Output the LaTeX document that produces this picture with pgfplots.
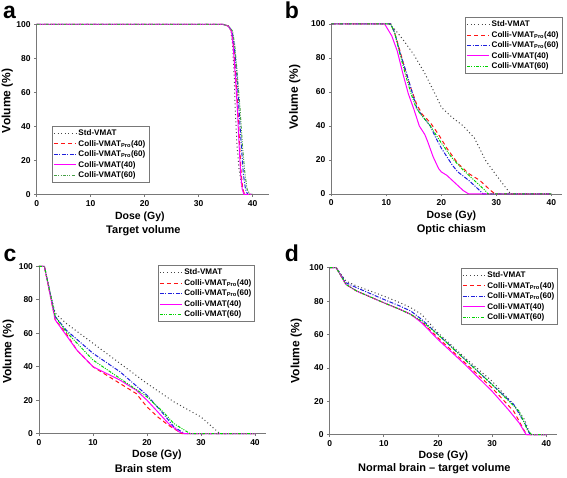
\documentclass[border=0pt]{standalone}
\usepackage{fontspec}
\setmainfont{Liberation Sans}
\usepackage{pgfplots}
\pgfplotsset{compat=1.18}

\definecolor{stdc}{RGB}{70,70,70}
\definecolor{proA}{RGB}{255,20,20}
\definecolor{proB}{RGB}{30,30,220}
\definecolor{colA}{RGB}{255,0,255}
\definecolor{colB}{RGB}{0,210,0}
\definecolor{colBa}{RGB}{70,160,70}
\definecolor{axc}{RGB}{120,120,120}

\makeatletter
\newcommand\resetpgfcolors{\global\let\pgf@strokecolor@global\relax\global\let\pgf@fillcolor@global\relax}
\makeatother
\newcommand\legimg[2]{\resetpgfcolors\draw[draw=#1, line width=1pt, #2] (0pt,0pt) -- (22pt,0pt);}

\pgfplotsset{
  dvh/.style={
    scale only axis,
    xmin=0, ymin=0, ymax=100,
    axis x line*=bottom, axis y line*=left,
    axis line style={-, axc, line width=0.9pt},
    tick style={axc, line width=0.7pt},
    major tick length=2.5pt, tick align=outside,
    xtick={0,10,20,30,40}, ytick={0,20,40,60,80,100},
    /pgf/number format/assume math mode=true,
    ticklabel style={font=\bfseries\fontsize{8.5}{9}\selectfont},
    xlabel style={font=\bfseries\fontsize{10.5}{11}\selectfont},
    ylabel style={font=\bfseries\fontsize{12}{12}\selectfont},
    xlabel={Dose (Gy)}, ylabel={Volume (\%)},
    clip=false,
    legend style={draw=axc, font=\bfseries\fontsize{8.1}{8.8}\selectfont,
      cells={anchor=west}, inner sep=1.4pt, row sep=-0.9pt, line width=0.6pt},
  },
}
\tikzset{
  sstd/.style={draw=stdc, color=stdc, line width=1pt, dash pattern=on 1pt off 2.6pt,
    /pgfplots/legend image code/.code={\legimg{stdc}{dash pattern=on 1pt off 2.6pt}}},
  spa/.style={draw=proA, color=proA, line width=1pt, dash pattern=on 4pt off 3pt,
    /pgfplots/legend image code/.code={\legimg{proA}{dash pattern=on 4pt off 3pt}}},
  spb/.style={draw=proB, color=proB, line width=1pt, dash pattern=on 4pt off 1.5pt on 1pt off 1.5pt,
    /pgfplots/legend image code/.code={\legimg{proB}{dash pattern=on 4pt off 1.5pt on 1pt off 1.5pt}}},
  sca/.style={draw=colA, color=colA, line width=1pt,
    /pgfplots/legend image code/.code={\legimg{colA}{solid}}},
  scb/.style={draw=colB, color=colB, line width=1pt, dash pattern=on 3pt off 1.3pt on 1pt off 1.3pt on 1pt off 1.3pt,
    /pgfplots/legend image code/.code={\legimg{colB}{dash pattern=on 3pt off 1.3pt on 1pt off 1.3pt on 1pt off 1.3pt}}},
  scba/.style={draw=colBa, color=colBa, line width=1pt, dash pattern=on 3pt off 1.3pt on 1pt off 1.3pt on 1pt off 1.3pt,
    /pgfplots/legend image code/.code={\legimg{colBa}{dash pattern=on 3pt off 1.3pt on 1pt off 1.3pt on 1pt off 1.3pt}}},
  ttl/.style={font=\bfseries\fontsize{11}{12}\selectfont},
}

\begin{document}
\begin{tikzpicture}[x=1pt,y=1pt]
\useasboundingbox (0,0) rectangle (567,477);

% ---------------- a ----------------
\begin{axis}[dvh, at={(36.7pt,282.7pt)}, anchor=south west,
  width=232pt, height=170pt, xmax=43,
  xlabel style={at={(axis description cs:0.445,0)}, anchor=center, yshift=-22pt},
  ylabel style={at={(axis description cs:-0.127,0.55)}, anchor=center},
  legend style={at={(0.065,0.068)}, anchor=south west}]
\addplot[sstd] coordinates {(0,100)(34.5,100)(35.5,99)(36,96)(36.3,88)(36.6,70)(36.8,50)(37.1,30)(37.5,15)(38,5)(38.5,0)(40,0)};
\addplot[spa] coordinates {(0,100)(34.5,100)(35.5,99)(36.1,96)(36.5,88)(36.9,70)(37.3,50)(37.6,30)(37.9,12)(38.2,3)(38.5,0)(40,0)};
\addplot[spb] coordinates {(0,100)(34.5,100)(35.5,99)(36.2,96)(36.6,88)(37.1,70)(37.5,50)(37.9,30)(38.3,12)(38.7,3)(39.1,0)(40,0)};
\addplot[sca] coordinates {(0,100)(34.5,100)(35.5,99)(36.1,96)(36.4,88)(36.8,70)(37.2,50)(37.5,30)(37.8,12)(38.1,3)(38.4,0)(40,0)};
\addplot[scba] coordinates {(0,100)(34.5,100)(35.6,99)(36.3,96)(36.7,88)(37.2,70)(37.7,50)(38.1,30)(38.6,12)(39,3)(39.5,0)(40,0)};
\legend{Std-VMAT, Colli-VMAT\textsubscript{Pro}(40), Colli-VMAT\textsubscript{Pro}(60), Colli-VMAT(40), Colli-VMAT(60)}
\node[ttl] at (axis description cs:0.46,-0.216) {Target volume};
\end{axis}

% ---------------- b ----------------
\begin{axis}[dvh, at={(331.3pt,283pt)}, anchor=south west,
  width=231pt, height=170pt, xmax=42,
  xlabel style={at={(axis description cs:0.52,0)}, anchor=center, yshift=-22pt},
  ylabel style={at={(axis description cs:-0.158,0.57)}, anchor=center},
  legend style={at={(1.0,1.04)}, anchor=north east}]
\addplot[sstd] coordinates {(0,100)(10.5,100)(11.5,97)(13,91)(15,82)(17,71)(19,58)(20,51)(22,45)(24,40)(26,33)(28,20)(30,11)(32.6,0)(40,0)};
\addplot[spa] coordinates {(0,100)(10.8,100)(11.5,95)(12.5,84)(13.5,72)(14.5,62)(15.5,53)(16.5,47)(18,42)(19.5,35)(21,27)(23,18)(25,12)(27,8)(29,2)(29.8,0)(40,0)};
\addplot[spb] coordinates {(0,100)(10.8,100)(11.5,95)(12.5,83)(13.5,73)(14.5,62)(15.5,51)(16.5,46)(18,40)(19,33)(20,27)(21,22)(22,17)(23,13)(25,8)(27,2)(27.6,0)(40,0)};
\addplot[sca] coordinates {(0,100)(9.7,100)(11,93)(12,84)(13,71)(14,59)(15,50)(16,40)(17,35)(17.5,31)(18.5,22)(19.5,15)(20,13)(21,11)(22,8)(23,5)(24,2)(25,0)(40,0)};
\addplot[scb] coordinates {(0,100)(10.8,100)(11.5,95)(12.5,82)(13.5,70)(14.5,59)(15.5,50)(16.5,46)(18,40)(19,35)(20,30)(22,21)(24,14)(26,8)(28,2)(28.5,0)(40,0)};
\legend{Std-VMAT, Colli-VMAT\textsubscript{Pro}(40), Colli-VMAT\textsubscript{Pro}(60), Colli-VMAT(40), Colli-VMAT(60)}
\node[ttl] at (axis description cs:0.52,-0.21) {Optic chiasm};
\end{axis}

% ---------------- c ----------------
\begin{axis}[dvh, at={(39pt,43.3pt)}, anchor=south west,
  width=226.8pt, height=167.4pt, xmax=42,
  xlabel style={at={(axis description cs:0.52,0)}, anchor=center, yshift=-21.3pt},
  ylabel style={at={(axis description cs:-0.135,0.49)}, anchor=center},
  legend style={at={(0.952,1.006)}, anchor=north east}]
\addplot[sstd] coordinates {(0,100)(1,100)(2,85)(3,72)(5,66)(10,54)(15,42)(20,30)(25,19)(30,10)(33.5,0)(40,0)};
\addplot[spa] coordinates {(0,100)(1,100)(2,84)(3,68)(5,60)(7,50)(10,40)(15,30)(18,24)(20,16)(22,10)(24,5)(26,1)(26.5,0)(40,0)};
\addplot[spb] coordinates {(0,100)(1,100)(2,85)(3,70)(5,62)(10,48)(15,37)(20,23)(23,12)(25,4)(27,0)(40,0)};
\addplot[sca] coordinates {(0,100)(1,100)(2,84)(3,68)(5,59)(7,50)(10,40)(15,32)(18,26)(20,20)(22,13)(24,6)(26,1)(27,0)(40,0)};
\addplot[scb] coordinates {(0,100)(1,100)(2,85)(3,70)(5,61)(10,44)(15,33)(20,22)(23,13)(25,6)(28,0)(40,0)};
\legend{Std-VMAT, Colli-VMAT\textsubscript{Pro}(40), Colli-VMAT\textsubscript{Pro}(60), Colli-VMAT(40), Colli-VMAT(60)}
\node[ttl] at (axis description cs:0.46,-0.21) {Brain stem};
\end{axis}

% ---------------- d ----------------
\begin{axis}[dvh, at={(329.7pt,42.3pt)}, anchor=south west,
  width=227.4pt, height=167pt, xmax=42,
  xlabel style={at={(axis description cs:0.5,0)}, anchor=center, yshift=-21.3pt},
  ylabel style={at={(axis description cs:-0.147,0.5)}, anchor=center},
  legend style={at={(1.004,0.998)}, anchor=north east}]
\addplot[sstd] coordinates {(0,100)(1.2,100)(3,92)(5,89)(10,83)(13,79)(15,76)(17,72)(20,61)(25,46)(30,32)(34,18)(36,9)(37,0)(40,0)};
\addplot[spa] coordinates {(0,100)(1.2,100)(3,90)(5,86)(10,79)(13,75)(15,72)(17,67.5)(20,58)(25,43)(30,28)(34,14)(36,2)(36.5,0)(40,0)};
\addplot[spb] coordinates {(0,100)(1.2,100)(3,91)(5,88)(10,81)(13,77)(15,74)(17,69)(20,60)(25,45)(30,30)(34,18)(36,7)(37,0)(40,0)};
\addplot[sca] coordinates {(0,100)(1.2,100)(3,90)(5,86)(10,79)(13,75)(15,72)(17,67)(20,57)(25,42)(30,26)(33,15)(35,7)(36.3,0)(40,0)};
\addplot[scb] coordinates {(0,100)(1.2,100)(3,90)(5,86)(10,79)(13,75)(15,72)(17,68)(20,60)(25,45)(30,30)(35,14)(36.5,3)(37.3,0)(40,0)};
\legend{Std-VMAT, Colli-VMAT\textsubscript{Pro}(40), Colli-VMAT\textsubscript{Pro}(60), Colli-VMAT(40), Colli-VMAT(60)}
\node[ttl] at (axis description cs:0.46,-0.205) {Normal brain -- target volume};
\end{axis}

% panel letters
\node[anchor=base west, inner sep=0pt, font=\bfseries\fontsize{23}{24}\selectfont] at (3,458.7) {a};
\node[anchor=base west, inner sep=0pt, font=\bfseries\fontsize{23}{24}\selectfont] at (284.7,458.7) {b};
\node[anchor=base west, inner sep=0pt, font=\bfseries\fontsize{23}{24}\selectfont] at (3.3,215) {c};
\node[anchor=base west, inner sep=0pt, font=\bfseries\fontsize{23}{24}\selectfont] at (284.7,215) {d};
\end{tikzpicture}
\end{document}
